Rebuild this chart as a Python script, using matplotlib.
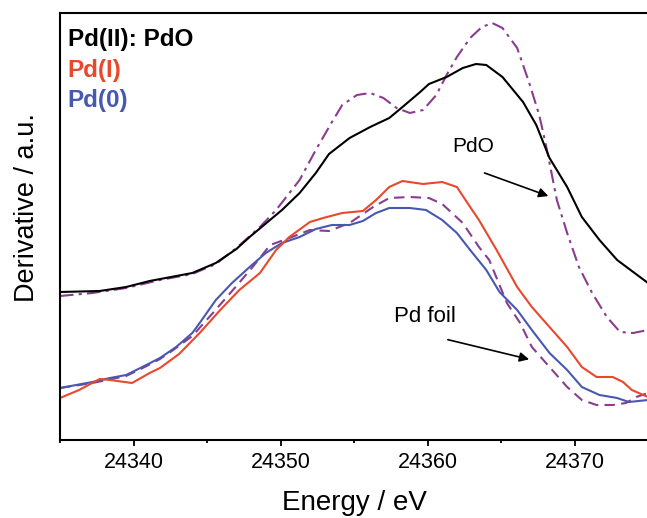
import numpy as np
import matplotlib
matplotlib.use("Agg")
import matplotlib.pyplot as plt

plt.rcParams['font.family'] = ['Liberation Sans', 'DejaVu Sans']

# Pd(II) sample (black, solid)
e_pd2 = [24335.0, 24337.7, 24339.5, 24341.1, 24344.0, 24345.6, 24347.0, 24347.9,
         24350.1, 24351.3, 24352.4, 24353.3, 24354.7, 24356.1, 24357.4, 24358.3,
         24359.5, 24360.1, 24361.3, 24362.4, 24363.3, 24364.0, 24365.1, 24366.5,
         24367.4, 24368.3, 24369.5, 24370.5, 24371.7, 24372.9, 24375.0]
d_pd2 = [148, 149, 153, 159, 167, 177, 191, 203,
         230, 247, 267, 286, 302, 313, 322, 333,
         348, 356, 363, 372, 376, 375, 363, 338,
         315, 282, 253, 223, 200, 180, 157]

# PdO reference (purple, dash-dot)
e_pdo = [24335.0, 24337.2, 24339.5, 24341.8, 24344.0, 24345.6, 24347.0, 24348.6,
         24349.7, 24351.3, 24352.4, 24353.5, 24354.2, 24355.2, 24356.1, 24357.0,
         24357.9, 24358.8, 24359.7, 24360.6, 24361.3, 24362.0, 24362.9, 24363.7,
         24364.4, 24365.1, 24366.1, 24366.9, 24367.6, 24368.1, 24368.8, 24369.5,
         24370.3, 24371.2, 24372.2, 24373.1, 24374.0, 24375.0]
d_pdo = [144, 147, 152, 160, 166, 176, 192, 213,
         230, 260, 290, 318, 335, 345, 347, 342,
         332, 327, 330, 345, 365, 383, 402, 413,
         417, 412, 392, 358, 325, 292, 240, 207,
         173, 147, 123, 108, 107, 110]

# Pd(I) sample (red)
e_pd1 = [24335.0, 24336.3, 24337.7, 24338.4, 24339.9, 24341.1, 24341.8, 24343.1,
         24344.5, 24345.9, 24347.2, 24348.6, 24349.7, 24350.6, 24352.0, 24352.9,
         24354.2, 24355.6, 24356.5, 24357.4, 24358.3, 24359.7, 24361.0, 24362.0,
         24362.9, 24363.5, 24364.7, 24366.1, 24367.1, 24368.3, 24369.5, 24370.5,
         24371.5, 24372.6, 24373.3, 24373.9, 24375.0]
d_pd1 = [42, 50, 61, 60, 57, 67, 72, 86,
         107, 130, 150, 167, 190, 203, 218, 222,
         227, 229, 240, 253, 259, 256, 258, 253,
         233, 220, 190, 153, 133, 113, 93, 73,
         63, 63, 58, 50, 43]

# Pd(0) sample (blue)
e_pd0 = [24335.0, 24337.2, 24338.4, 24339.5, 24340.6, 24341.8, 24342.9, 24344.0,
         24344.5, 24345.6, 24346.7, 24347.9, 24349.0, 24350.1, 24351.3, 24352.4,
         24353.5, 24354.7, 24355.6, 24356.5, 24357.4, 24358.8, 24359.9, 24361.0,
         24362.0, 24362.9, 24364.0, 24364.9, 24366.1, 24367.1, 24368.3, 24369.5,
         24370.5, 24371.7, 24372.9, 24373.7, 24375.0]
d_pd0 = [52, 58, 62, 65, 73, 82, 93, 107,
         117, 140, 157, 173, 187, 197, 203, 211,
         215, 215, 219, 227, 232, 232, 230, 220,
         207, 190, 170, 148, 130, 110, 87, 70,
         53, 45, 42, 38, 40]

# Pd foil reference (purple, dashed)
e_foil = [24335.0, 24337.2, 24339.5, 24340.9, 24341.8, 24342.7, 24344.0, 24345.4,
          24347.0, 24348.1, 24349.3, 24350.6, 24352.0, 24353.3, 24354.7, 24356.3,
          24357.4, 24358.8, 24360.1, 24361.0, 24362.4, 24363.5, 24364.2, 24365.4,
          24366.3, 24367.1, 24368.3, 24369.5, 24370.5, 24371.5, 24372.6, 24373.5,
          24374.2, 24375.0]
d_foil = [52, 57, 64, 74, 81, 90, 104, 127,
          154, 173, 195, 202, 210, 209, 217, 233,
          242, 243, 242, 236, 217, 193, 180, 137,
          117, 93, 73, 53, 40, 35, 35, 37,
          43, 47]

legend_labels = ['Pd(II): PdO', 'Pd(I)', 'Pd(0)']
xticks = [24340, 24350, 24360, 24370]

red = '#e8482c'
blue = '#4858b0'
purple = '#8a3c8e'

fig = plt.figure(figsize=(6.47, 5.18), dpi=100)
ax = fig.add_axes([60 / 647, 1 - 440 / 518, 588 / 647, 427 / 518])

lw = 1.5
kw = dict(lw=lw, solid_joinstyle='round', dash_joinstyle='round')
ax.plot(e_pdo, d_pdo, color=purple, dashes=(6.5, 2.5, 1.5, 2.5), **kw)
ax.plot(e_pd2, d_pd2, color='black', **kw)
ax.plot(e_foil, d_foil, color=purple, dashes=(5, 3), **kw)
ax.plot(e_pd0, d_pd0, color=blue, **kw)
ax.plot(e_pd1, d_pd1, color=red, **kw)

ax.set_xlim(24335, 24375)
ax.set_ylim(0, 427)
ax.set_xticks(xticks)
ax.set_xticks([24335, 24345, 24355, 24365, 24375], minor=True)
ax.set_yticks([])
ax.tick_params(axis='x', which='major', direction='out', length=4.5, width=1.3,
               labelsize=15.5, pad=4)
ax.tick_params(axis='x', which='minor', direction='out', length=2.5, width=1.3)
ax.xaxis.set_major_formatter(matplotlib.ticker.FormatStrFormatter('%d'))
for s in ['left', 'bottom', 'top']:
    ax.spines[s].set_linewidth(1.5)
ax.spines['right'].set_visible(False)

ys = [0.938, 0.866, 0.796]
cols = ['black', red, blue]
for lab, y, c in zip(legend_labels, ys, cols):
    ax.text(0.013, y, lab, transform=ax.transAxes, color=c, fontsize=17.5,
            fontweight='bold', va='center', ha='left')

ax.text(24363.1, 293, 'PdO', fontsize=15, ha='center', va='center')
ax.annotate('', xy=(24368.4, 243), xytext=(24363.7, 268),
            arrowprops=dict(arrowstyle='-|>', color='black', lw=1.2,
                            mutation_scale=14))
ax.text(24359.8, 123, 'Pd foil', fontsize=16, ha='center', va='center')
ax.annotate('', xy=(24367.1, 80), xytext=(24361.2, 101),
            arrowprops=dict(arrowstyle='-|>', color='black', lw=1.2,
                            mutation_scale=14))

fig.text(354 / 647, 1 - 510 / 518, 'Energy / eV', fontsize=20,
         ha='center', va='baseline')
fig.text(27 / 647, 1 - 207 / 518, 'Derivative / a.u.', fontsize=19.5,
         rotation=90, ha='center', va='center')

fig.savefig('out.png', dpi=100)
